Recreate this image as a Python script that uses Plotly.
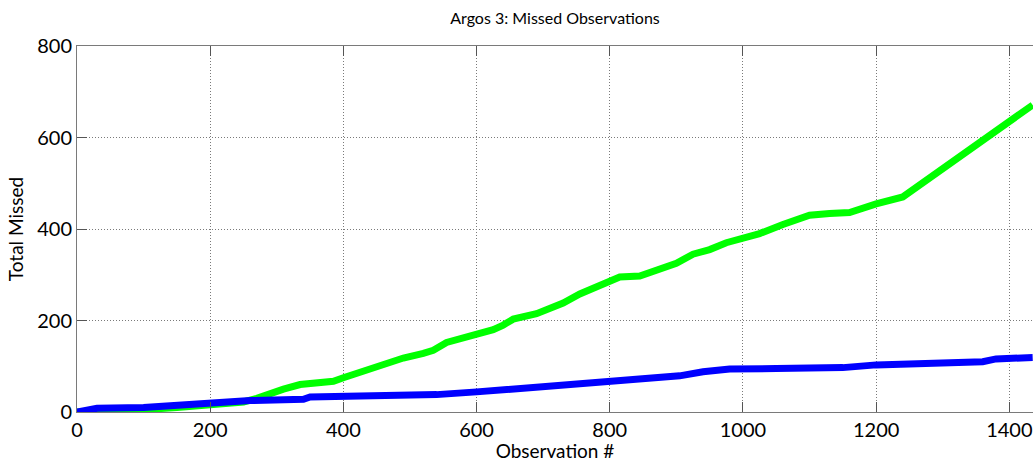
import plotly.graph_objects as go

# Green series (observation #, total missed)
green_x = [0, 50, 100, 150, 200, 250, 270, 290, 310, 335, 360, 385, 400, 430, 460, 490, 520, 535, 555,
           590, 625, 640, 655, 690, 730, 755, 790, 815, 845, 870, 900, 925, 950, 975, 1000, 1025, 1060,
           1100, 1130, 1160, 1200, 1240, 1435]
green_y = [0, 2, 5, 10, 15, 22, 30, 42, 50, 60, 64, 67, 75, 90, 107, 118, 128, 135, 152,
           165, 180, 190, 203, 215, 238, 258, 280, 295, 297, 310, 325, 345, 355, 370, 380, 390, 410,
           430, 434, 436, 455, 470, 671]

# Blue series
blue_x = [0, 30, 100, 150, 200, 260, 340, 350, 425, 480, 540, 600, 650, 690, 750, 800, 850, 905,
          940, 980, 1050, 1150, 1200, 1300, 1360, 1380, 1435]
blue_y = [0, 8, 10, 15, 20, 25, 28, 33, 35, 35, 38, 44, 50, 55, 62, 68, 74, 79,
          88, 94, 95, 97, 103, 106, 110, 116, 119]

x_ticks = [0, 200, 400, 600, 800, 1000, 1200, 1400]
y_ticks = [0, 200, 400, 600, 800]

FONT = "Lato"

fig = go.Figure()
fig.add_trace(go.Scatter(x=green_x, y=green_y, mode="lines",
                         line=dict(color="#00ff00", width=7), showlegend=False))
fig.add_trace(go.Scatter(x=blue_x, y=blue_y, mode="lines",
                         line=dict(color="#0000ff", width=7), showlegend=False))

axis_common = dict(
    showgrid=True, gridcolor="#7a7a7a", griddash="1px,2px", gridwidth=1,
    showline=True, linecolor="#7a7a7a", linewidth=1,
    ticks="inside", ticklen=10, tickcolor="#555555", tickwidth=1,
    zeroline=False,
    tickfont=dict(family=FONT, size=20, color="#000000"),
)

fig.update_layout(
    width=1033, height=462,
    margin=dict(l=77, r=0, t=46, b=50),
    paper_bgcolor="#ffffff", plot_bgcolor="#ffffff",
    title=dict(text="Argos 3: Missed Observations", x=0.5, xref="paper",
               y=1 - 18 / 462, yanchor="middle",
               font=dict(family=FONT, size=16, color="#000000")),
    xaxis=dict(range=[0, 1435.5], tickvals=x_ticks, mirror="ticks",
               title=dict(text="Observation #", font=dict(family=FONT, size=19, color="#000000"), standoff=2),
               **axis_common),
    yaxis=dict(range=[0, 800], tickvals=y_ticks, mirror=False,
               title=dict(text="Total Missed", font=dict(family=FONT, size=19, color="#000000"), standoff=8),
               **axis_common),
)

fig.write_html("out.html")
